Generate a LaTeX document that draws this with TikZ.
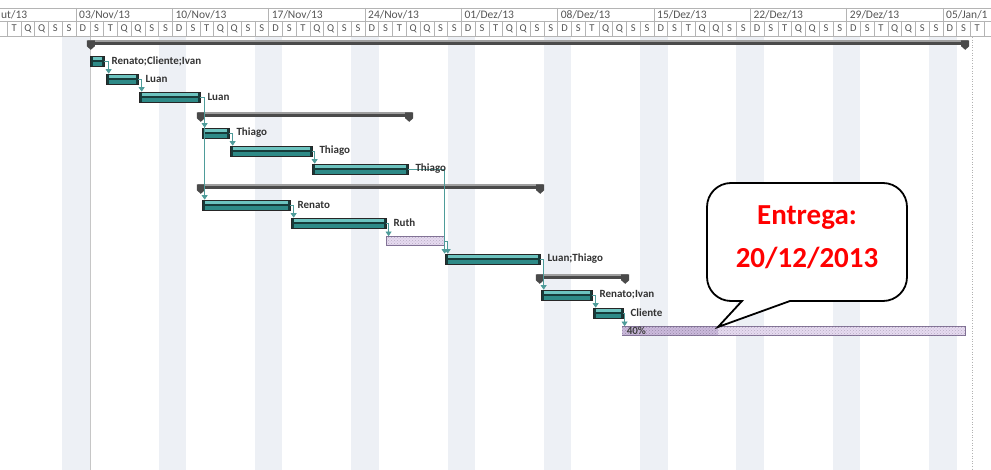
\documentclass[tikz,border=0pt]{standalone}
\usepackage{fontspec}
\setmainfont{Carlito}
\usetikzlibrary{positioning, arrows.meta, patterns, calc}

\definecolor{barteal}{HTML}{2E8A87}
\definecolor{barlight}{HTML}{6CC3BF}
\definecolor{barline}{HTML}{173B3A}
\definecolor{linkteal}{HTML}{4E9C9A}
\definecolor{sumgray}{HTML}{4A4A4A}
\definecolor{lavfill}{HTML}{E6DAF0}
\definecolor{lavdark}{HTML}{CBB9DC}
\definecolor{lavline}{HTML}{7E6E92}
\definecolor{weekendband}{HTML}{EDF0F5}
\definecolor{headtext}{HTML}{555555}
\definecolor{gridgray}{HTML}{B4B4B4}

\begin{document}
\begin{tikzpicture}[
        x=1pt, y=-1pt,
        >={Triangle[width=6pt,length=4.5pt]},
        gridline/.style={draw=gridgray, line width=0.5pt},
        weeklabel/.style={anchor=west, inner sep=0pt, text=headtext, font=\fontsize{11.5}{13}\selectfont},
        daylabel/.style={inner sep=0pt, text=headtext, font=\fontsize{10.5}{12}\selectfont},
        taskbar/.style={rectangle, draw=black!85, line width=0.7pt, fill=barteal, minimum height=10pt, inner sep=0pt,
            path picture={
                \fill[barlight] (path picture bounding box.north west) rectangle ([yshift=-4pt]path picture bounding box.north east);
                \fill[barline] ([yshift=-4.5pt]path picture bounding box.north west) rectangle ([yshift=-6pt]path picture bounding box.north east);
                \fill[barline] (path picture bounding box.north west) rectangle ([xshift=2.5pt]path picture bounding box.south west);
                \fill[barline] (path picture bounding box.north east) rectangle ([xshift=-2.5pt]path picture bounding box.south east);
            }},
        latebar/.style={rectangle, draw=lavline, line width=0.8pt, fill=lavfill, minimum height=9pt, inner sep=0pt,
            postaction={pattern=crosshatch dots, pattern color=lavline!55}},
        progbar/.style={rectangle, fill=lavdark, minimum height=8pt, inner sep=0pt,
            postaction={pattern=crosshatch dots, pattern color=lavline!80}},
        summarybar/.style={rectangle, fill=sumgray, minimum height=5pt, inner sep=0pt,
            path picture={\fill[gray!75] (path picture bounding box.north west) rectangle ([yshift=-1.5pt]path picture bounding box.north east);}},
        tasklabel/.style={inner sep=1pt, text=black!80, font=\fontsize{11}{13}\selectfont\bfseries},
        link/.style={draw=linkteal, line width=0.7pt, ->},
        callout/.style={draw=black, line width=1.8pt, fill=white},
        calltext/.style={text=red, font=\fontsize{29}{34}\selectfont\bfseries},
    ]

    \useasboundingbox (0,0) rectangle (991,470);
    \fill[white] (0,0) rectangle (991,470);

    % weekend shading and project lines
    \foreach \k in {0,...,9}
        \fill[weekendband] ({76+(7*\k-1)*13.76},36.5) rectangle ++(27.52,434);
    \draw[gray!45, line width=0.6pt] (90,37) -- (90,470);
    \draw[gray!60, dotted, line width=0.6pt] (972,37) -- (972,470);

    % timescale
    \draw[gridline] (0,8) -- (991,8);
    \draw[gridline] (0,21) -- (991,21);
    \draw[gridline] (0,36) -- (991,36);
    \foreach \k in {0,...,9}
        \draw[gridline] ({76+\k*96.33},8) -- ++(0,13);
    \node[weeklabel] (W-1) at (1,14.5) {ut/13};
    \foreach \wk [count=\k from 0] in {{03/Nov/13},{10/Nov/13},{17/Nov/13},{24/Nov/13},{01/Dez/13},{08/Dez/13},{15/Dez/13},{22/Dez/13},{29/Dez/13},{05/Jan/1}}
        \node[weeklabel] (W\k) at ({76+\k*96.33+3},14.5) {\wk};
    \foreach \i in {-5,...,66}
        \draw[gridline] ({76+\i*13.76},21) -- ++(0,15);
    \foreach \i in {-5,...,65}{
        \pgfmathtruncatemacro\m{mod(\i+70,7)}
        \node[daylabel] (D\i) at ({76+(\i+0.5)*13.76},28.5) {\ifcase\m D\or S\or T\or Q\or Q\or S\or S\fi};
    }

    % summary bars
    \foreach \n/\row/\xa/\xb in {0/0/88/968, 1/4/198/412, 2/8/198/543, 3/13/537/628}{
        \node[summarybar, minimum width={\xb-\xa}] (S\n) at ({(\xa+\xb)/2},{43+18*\row}) {};
        \fill[sumgray] ([xshift=-1pt]S\n.north west) -- ++(8,0) -- ++(0,6) -- ++(-4,3.5) -- ++(-4,-3.5) -- cycle;
        \fill[sumgray] ([xshift=1pt]S\n.north east) -- ++(-8,0) -- ++(0,6) -- ++(4,3.5) -- ++(4,-3.5) -- cycle;
    }

    % tasks
    \foreach \n/\row/\xa/\xb/\txt in {1/1/90/104/{Renato;Cliente;Ivan}, 2/2/106/138/Luan, 3/3/139/200/Luan,
            4/5/202/229/Thiago, 5/6/230/312/Thiago, 6/7/312/408/Thiago, 7/9/202/290/Renato,
            8/10/291/386/Ruth, 10/12/445/540/{Luan;Thiago}, 11/14/541/592/{Renato;Ivan}, 12/15/593/623/Cliente}
        \node[taskbar, minimum width={\xb-\xa}] (T\n) at ({(\xa+\xb)/2},{43+18*\row}) {};
    \node[latebar, minimum width=58] (T9) at (415,241) {};
    \node[latebar, minimum width=343] (T13) at (793.5,331) {};
    \node[progbar, minimum width=96, anchor=west] (P13) at (T13.west) {};
    \node[tasklabel, anchor=west, text=black!75] (PC) at ([xshift=4pt]T13.west) {40\%};

    % links
    \draw[link] (T1.east) -| ([xshift=3pt]T2.north west);
    \draw[link] (T2.east) -| ([xshift=3pt]T3.north west);
    \draw[link] (T3.east) -| ([xshift=3pt]T4.north west);
    \draw[link] (T3.east) -| ([xshift=3pt]T7.north west);
    \draw[link] (T4.east) -| ([xshift=3pt]T5.north west);
    \draw[link] (T5.east) -| ([xshift=3pt]T6.north west);
    \draw[link] (T6.east) -| ([xshift=0pt]T10.north west);
    \draw[link] (T7.east) -| ([xshift=3pt]T8.north west);
    \draw[link] (T8.east) -| ([xshift=3pt]T9.north west);
    \draw[link] (T9.east) -| ([xshift=3pt]T10.north west);
    \draw[link] (T10.east) -| ([xshift=3pt]T11.north west);
    \draw[link] (T11.east) -| ([xshift=3pt]T12.north west);
    \draw[link] (T12.east) -| ([xshift=3pt]T13.north west);

    % resource names
    \foreach \n/\txt in {1/{Renato;Cliente;Ivan}, 2/Luan, 3/Luan, 4/Thiago, 5/Thiago, 6/Thiago,
            7/Renato, 8/Ruth, 10/{Luan;Thiago}, 11/{Renato;Ivan}, 12/Cliente}
        \node[tasklabel, right=6pt of T\n] (L\n) {\txt};

    % delivery callout
    \draw[callout] (742,301) [rounded corners=24] -- (707,301) -- (707,183) -- (907,183) -- (907,301)
        [sharp corners] -- (790,301) -- (718,327) -- cycle;
    \node[calltext] (E1) at (807,218) {Entrega:};
    \node[calltext] (E2) at (807,258) {20/12/2013};
\end{tikzpicture}
\end{document}
